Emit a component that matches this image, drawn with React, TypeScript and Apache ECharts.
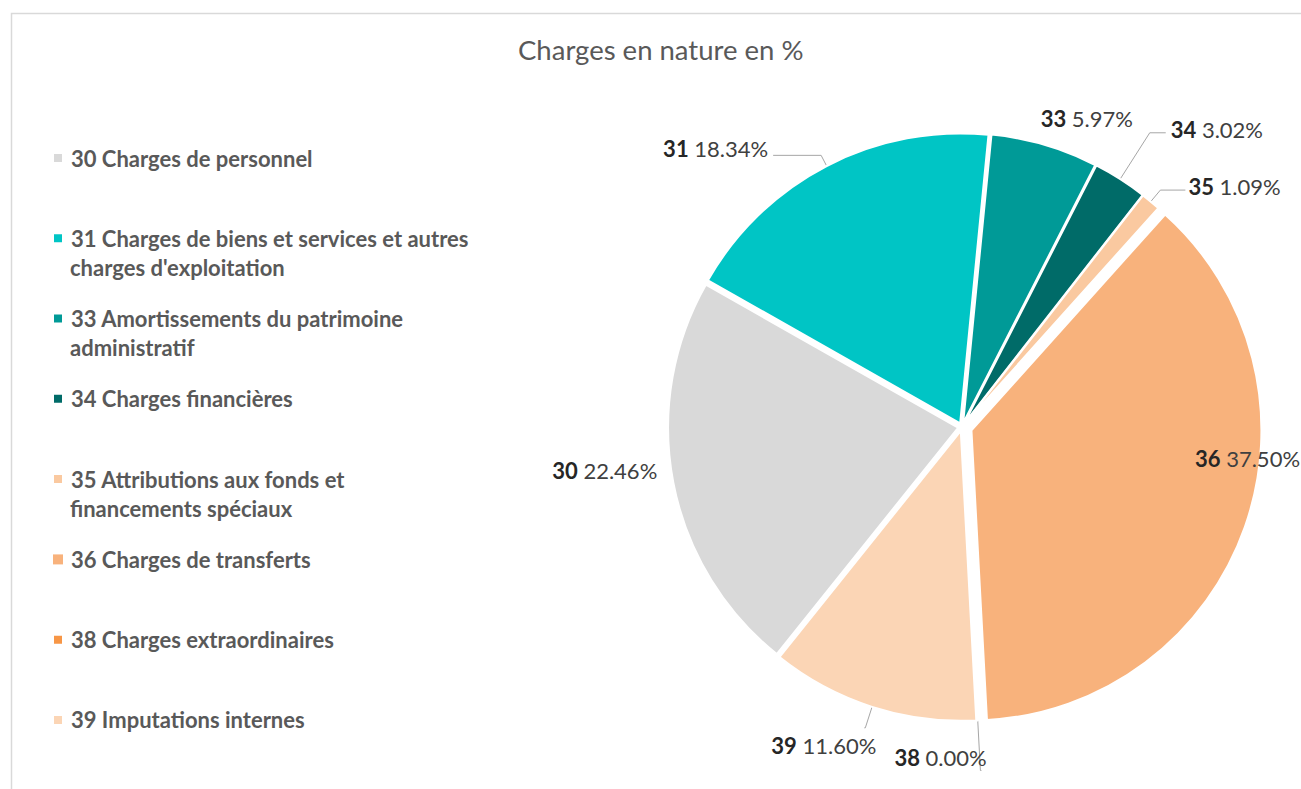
import React, { useEffect, useRef } from 'react';
import * as echarts from 'echarts';

const codes = ['30', '31', '33', '34', '35', '36', '38', '39'];
const legendFirstLines = [
  '30 Charges de personnel',
  '31 Charges de biens et services et autres',
  '33 Amortissements du patrimoine',
  '34 Charges financières',
  '35 Attributions aux fonds et',
  '36 Charges de transferts',
  '38 Charges extraordinaires',
  '39 Imputations internes',
];
const legendSecondLines = ['', "charges d'exploitation", 'administratif', '', 'financements spéciaux', '', '', ''];
const values = [22.46, 18.34, 5.97, 3.02, 1.09, 37.5, 0.0, 11.6];
const colors = ['#D9D9D9', '#00C5C5', '#009A97', '#006B68', '#FAC9A0', '#F8B27C', '#F79646', '#FBD5B5'];
const farExplodedCode = '36';

// label / leader styling per slice
type LabelStyle = {
  len: number;
  len2: number;
  line: boolean;
  dist: number;
  pad: [number, number, number, number];
  edge?: number;
};
const labelStyles: Record<string, LabelStyle> = {
  '30': { len: 0, len2: 11, line: false, dist: 5, pad: [0, 0, 23, 0] },
  '31': { len: 12, len2: 48, line: true, dist: 5, pad: [0, 0, 14, 0] },
  '33': { len: 28, len2: 0, line: false, dist: -12, pad: [0, 0, 0, 0] },
  '34': { len: 55, len2: 16, line: true, dist: 5, pad: [0, 0, 6, 0] },
  '35': { len: 15, len2: 25, line: true, dist: 3, pad: [0, 0, 8, 0] },
  '36': { len: -206, len2: 0, line: false, dist: 5, pad: [0, 0, 0, 0], edge: 10.4 },
  '38': { len: 50, len2: 1, line: true, dist: -87, pad: [0, 0, 26, 0] },
  '39': { len: 22, len2: 1, line: true, dist: -12, pad: [36, 0, 0, 0] },
};

const names = legendFirstLines.map((l, i) => (legendSecondLines[i] ? l + ' ' + legendSecondLines[i] : l));

const FONT = 'Lato';

export default function App() {
  const ref = useRef<HTMLDivElement>(null);
  useEffect(() => {
    if (!ref.current) return;
    const chart = echarts.init(ref.current, undefined, { renderer: 'svg' });
    const farIdx = codes.indexOf(farExplodedCode);

    const labelBase = {
      fontFamily: FONT,
      fontSize: 22,
      color: '#404040',
      formatter: (p: any) => `{c|${codes[p.dataIndex]}} ${Number(p.value).toFixed(2)}%`,
      rich: { c: { fontFamily: FONT, fontSize: 22, fontWeight: 'bold', color: '#262626' } },
    };

    const makeData = (visible: (i: number) => boolean) =>
      values.map((v, i) => {
        const ls = labelStyles[codes[i]];
        const label: any = {
          show: visible(i),
          distanceToLabelLine: ls.dist,
          padding: ls.pad,
        };
        if (ls.edge != null) {
          label.alignTo = 'edge';
          label.edgeDistance = ls.edge;
        }
        return {
          name: names[i],
          value: v,
          selected: true,
          itemStyle: visible(i)
            ? { color: colors[i], borderColor: '#ffffff', borderWidth: 2 }
            : { color: 'rgba(0,0,0,0)', borderWidth: 0 },
          label,
          labelLine: { show: visible(i) && ls.line, length: ls.len, length2: ls.len2 },
        };
      });

    const pieCommon = {
      type: 'pie',
      center: [962, 427],
      radius: [0, 290],
      startAngle: -128.7,
      clockwise: true,
      selectedMode: 'multiple',
      avoidLabelOverlap: false,
      label: labelBase,
      labelLine: { lineStyle: { color: '#A6A6A6', width: 1 } },
      emphasis: { disabled: true },
    };

    const graphics: any[] = [
      {
        type: 'rect',
        shape: { x: 11.5, y: 13.5, width: 1400, height: 900 },
        style: { fill: 'none', stroke: '#D9D9D9', lineWidth: 1.5 },
        silent: true,
      },
    ];
    legendSecondLines.forEach((t, i) => {
      if (!t) return;
      graphics.push({
        type: 'text',
        x: 70,
        y: 158 + i * 80.28 + 29,
        style: {
          text: t,
          fontFamily: FONT,
          fontSize: 22,
          fontWeight: 'bold',
          fill: '#595959',
          verticalAlign: 'middle',
        },
        silent: true,
      });
    });

    chart.setOption({
      animation: false,
      title: {
        text: 'Charges en nature en %',
        left: 518,
        top: 35,
        padding: 0,
        textStyle: { fontFamily: FONT, fontSize: 27.5, fontWeight: 'normal', color: '#595959' },
      },
      legend: {
        orient: 'vertical',
        left: 52,
        top: 147,
        padding: 0,
        icon: 'rect',
        itemWidth: 10,
        itemHeight: 10,
        itemGap: 58.28,
        selectedMode: false,
        data: names.map((n, i) => ({ name: n, itemStyle: { color: colors[i] } })),
        formatter: (n: string) => legendFirstLines[names.indexOf(n)],
        textStyle: {
          fontFamily: FONT,
          fontSize: 22,
          fontWeight: 'bold',
          color: '#595959',
          lineHeight: 22,
          padding: [0, 0, 0, 3],
        },
      },
      graphic: graphics,
      series: [
        { ...pieCommon, name: 'main', selectedOffset: 4, data: makeData((i) => i !== farIdx) },
        { ...pieCommon, name: 'far', selectedOffset: 10, data: makeData((i) => i === farIdx) },
      ],
    });
    return () => chart.dispose();
  }, []);
  return <div ref={ref} style={{ position: 'absolute', left: 0, top: 0, width: 1301, height: 789 }} />;
}
